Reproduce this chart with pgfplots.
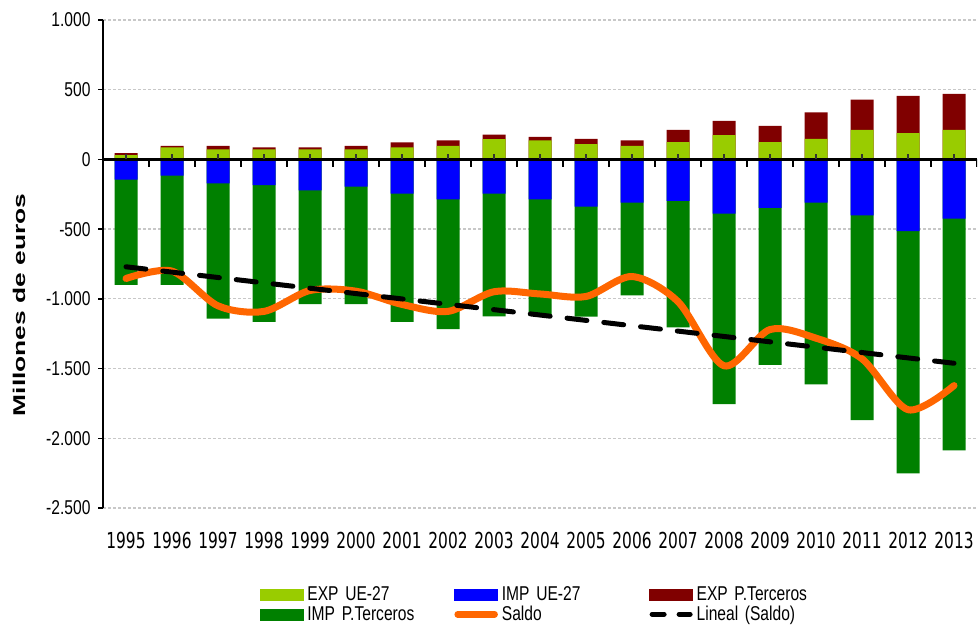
\documentclass[border=0pt]{standalone}
\usepackage{pgfplots}
\pgfplotsset{compat=1.18}
\usepackage{pgfplotstable}
\usepackage{fontspec}
\setmainfont{Liberation Sans}[FakeStretch=0.78]
\newfontfamily\xfont{DejaVu Sans}[FakeStretch=0.70]
\newfontfamily\labfont{Liberation Sans}[FakeStretch=1.55]
\definecolor{expue}{HTML}{99CC00}
\definecolor{impue}{HTML}{0000FF}
\definecolor{exppt}{HTML}{800000}
\definecolor{imppt}{HTML}{008000}
\definecolor{saldo}{HTML}{FF6600}
\definecolor{gridc}{HTML}{C8C8C8}

\pgfplotstableread{
idx year expue exppt impue imppt saldo
0  1995  30  15 -145  -754  -854
1  1996  86  12 -117  -782  -801
2  1997  72  26 -172  -970  -1050
3  1998  72  14 -184  -982  -1090
4  1999  72  14 -222  -815  -940
5  2000  72  26 -195  -842  -945
6  2001  86  36 -245  -921  -1040
7  2002  98  38 -286  -932  -1090
8  2003 145  32 -245  -880  -949
9  2004 136  26 -286  -834  -965
10 2005 110  38 -338  -790  -983
11 2006  98  38 -310  -665  -840
12 2007 124  88 -298  -906  -1020
13 2008 174 103 -389 -1366  -1480
14 2009 124 117 -348 -1125  -1220
15 2010 148 190 -310 -1304  -1282
16 2011 212 217 -401 -1468  -1430
17 2012 188 267 -515 -1736  -1795
18 2013 212 258 -424 -1662  -1622
}\datatable

\pgfplotstableread{
idx trend
0  -770
18 -1462
}\trendtable

\begin{document}
\begin{tikzpicture}[x=1bp,y=1bp]
\path[use as bounding box] (0,0) rectangle (978,630);
\begin{axis}[
  at={(103bp,122bp)}, anchor=south west,
  scale only axis, width=874bp, height=488bp,
  xmin=-0.5, xmax=18.5, ymin=-2500, ymax=1000,
  axis x line*=bottom, axis y line*=left,
  x axis line style={draw=none},
  y axis line style={black, line width=2.2bp},
  xtick={0,...,18},
  xticklabels={1995,1996,1997,1998,1999,2000,2001,2002,2003,2004,2005,2006,2007,2008,2009,2010,2011,2012,2013},
  xticklabel style={font=\xfont\fontsize{22bp}{24bp}\selectfont, yshift=-16bp},
  major x tick style={draw=none},
  ytick={-2500,-2000,...,1000},
  yticklabel style={font=\fontsize{20bp}{22bp}\selectfont, xshift=-4bp},
  /pgf/number format/assume math mode=true,
  /pgf/number format/.cd, 1000 sep={.}, /pgfplots/.cd,
  tick align=outside,
  major tick length=5bp,
  major y tick style={black, line width=1.5bp},
  ymajorgrids,
  major grid style={gridc, line width=1.3bp, dash pattern=on 3bp off 2bp},
  legend columns=3,
  legend style={at={(0.176,-0.155)}, anchor=north west, draw=none, fill=none,
    font=\fontsize{20bp}{21bp}\selectfont,
    nodes={text width=146bp, anchor=west, inner sep=1bp},
    /tikz/every odd column/.append style={column sep=3bp},
    row sep=2bp},
  legend cell align=left,
]
\addlegendimage{legend image code/.code={\fill[expue] (0bp,-5.5bp) rectangle (43bp,5.5bp);}}
\addlegendentry{EXP UE-27}
\addlegendimage{legend image code/.code={\fill[impue] (0bp,-5.5bp) rectangle (43bp,5.5bp);}}
\addlegendentry{IMP UE-27}
\addlegendimage{legend image code/.code={\fill[exppt] (0bp,-5.5bp) rectangle (43bp,5.5bp);}}
\addlegendentry{EXP P.Terceros}
\addlegendimage{legend image code/.code={\fill[imppt] (0bp,-5.5bp) rectangle (43bp,5.5bp);}}
\addlegendentry{IMP P.Terceros}
\addlegendimage{legend image code/.code={\draw[saldo, line width=6.5bp, line cap=round] (3bp,0bp) -- (40bp,0bp);}}
\addlegendentry{Saldo}
\addlegendimage{legend image code/.code={\draw[black, line width=5bp, line cap=round, dash pattern=on 12bp off 15bp] (3bp,0bp) -- (41bp,0bp);}}
\addlegendentry{Lineal (Saldo)}

% positive stacks: total (red) then EXP UE-27 (light green)
\addplot[ybar, bar width=0.5, bar shift=0, fill=exppt, draw=none, forget plot]
  table[x=idx, y expr=\thisrow{expue}+\thisrow{exppt}] {\datatable};
\addplot[ybar, bar width=0.5, bar shift=0, fill=expue, draw=none, forget plot]
  table[x=idx, y=expue] {\datatable};
% negative stacks: total (green) then IMP UE-27 (blue)
\addplot[ybar, bar width=0.5, bar shift=0, fill=imppt, draw=none, forget plot]
  table[x=idx, y expr=\thisrow{impue}+\thisrow{imppt}] {\datatable};
\addplot[ybar, bar width=0.5, bar shift=0, fill=impue, draw=none, forget plot]
  table[x=idx, y=impue] {\datatable};

% zero axis line with ticks
\draw[black, line width=2.2bp] (axis cs:-0.5,0) -- (axis cs:18.5,0);
\pgfplotsinvokeforeach{0,...,19}{
  \draw[black, line width=1.3bp] (axis cs:{#1-0.5},0) -- ([yshift=-8bp]axis cs:{#1-0.5},0);
}
\pgfplotsinvokeforeach{0,...,18}{
  \draw[black!80, line width=1.2bp] (axis cs:#1,0) -- ([yshift=5bp]axis cs:#1,0);
}

\addplot[saldo, line width=7bp, smooth, tension=0.5, line cap=round, line join=round, forget plot]
  table[x=idx, y=saldo] {\datatable};
\addplot[black, line width=5bp, line cap=round, dash pattern=on 20bp off 17bp, forget plot]
  table[x=idx, y=trend] {\trendtable};
\end{axis}
\node[rotate=90, font=\labfont\bfseries\fontsize{17bp}{19bp}\selectfont] at (19bp,325bp) {Millones de euros};
\end{tikzpicture}
\end{document}
